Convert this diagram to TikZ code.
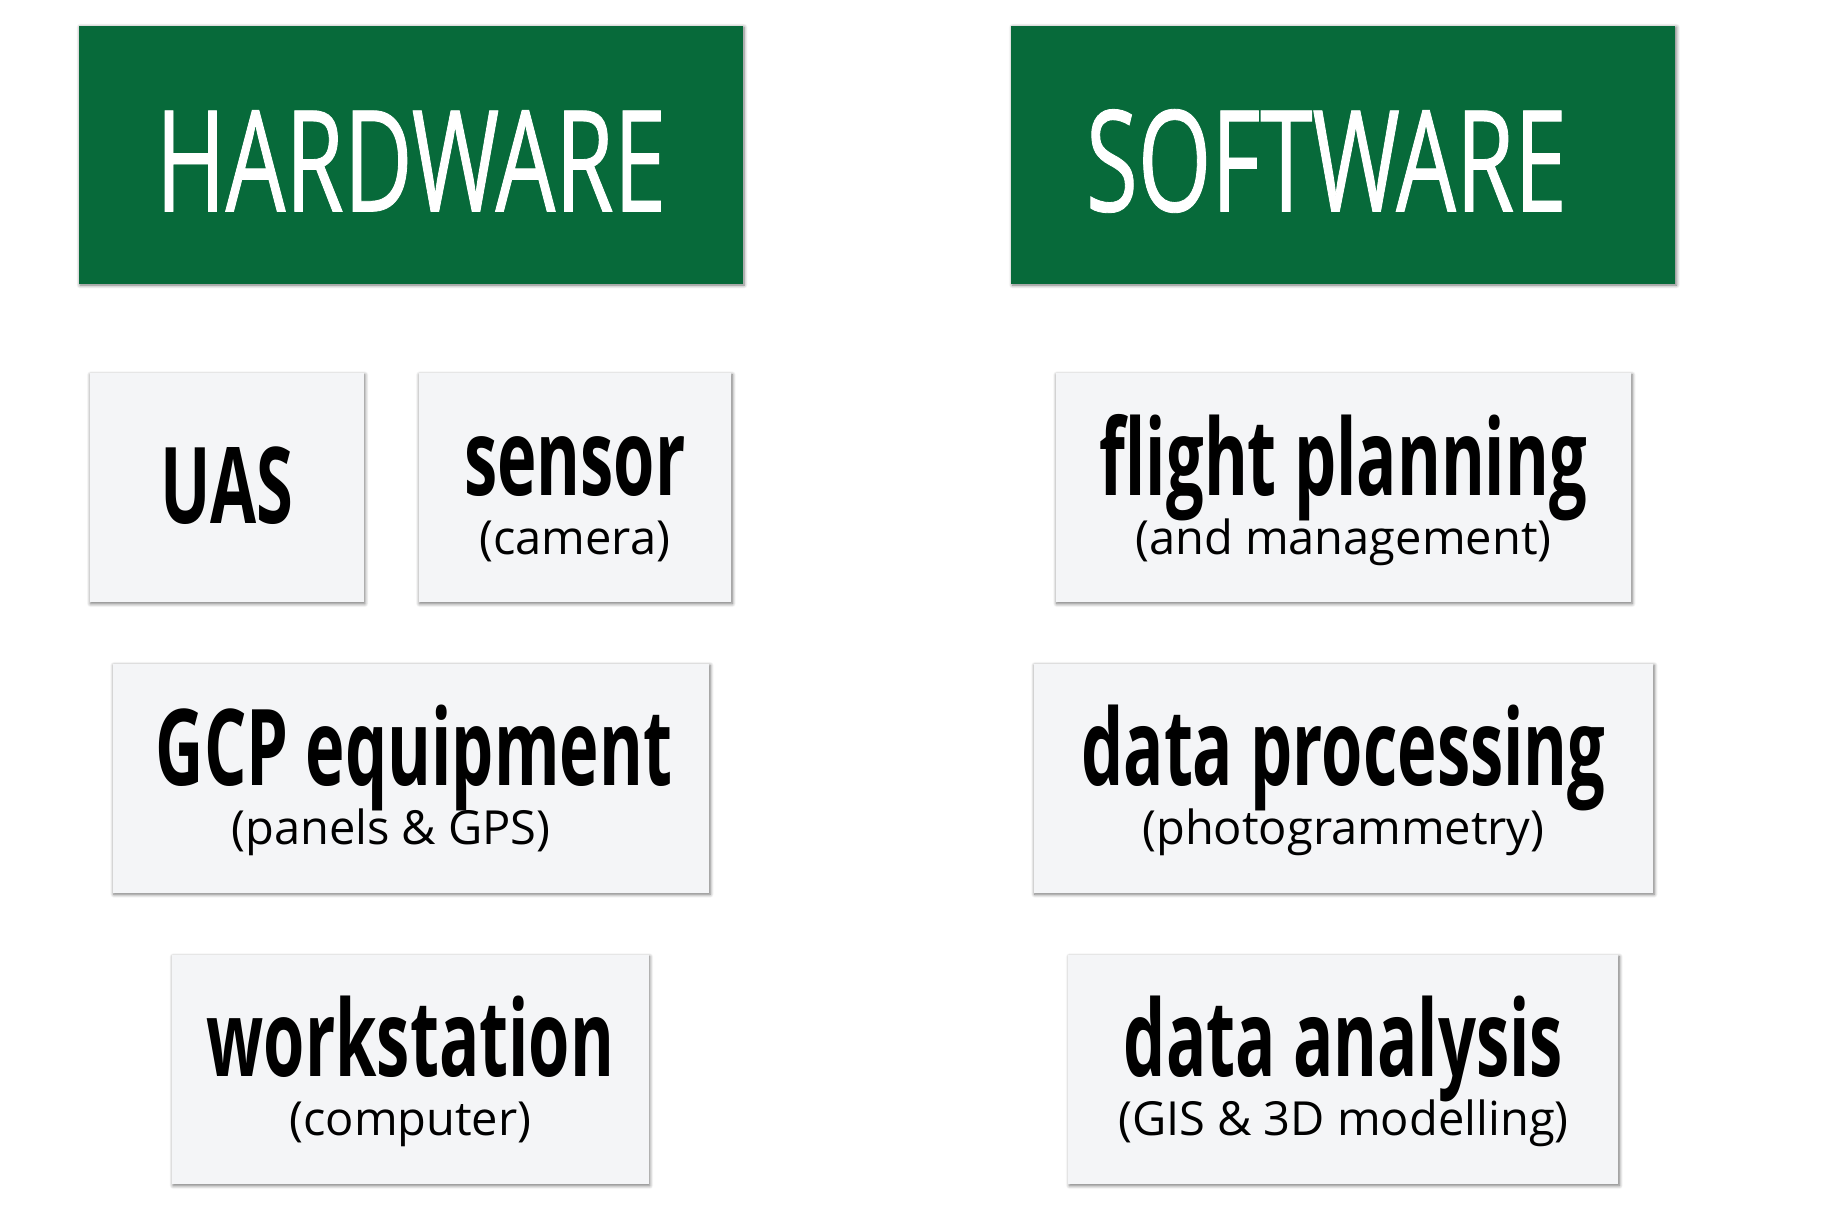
\documentclass[tikz,border=0pt]{standalone}
\usepackage{fontspec}
\usetikzlibrary{calc,shadows.blur}
\newfontfamily\headfont[FakeStretch=0.67,FakeBold=0.6]{Open Sans}
\newfontfamily\boxfont[FakeStretch=0.63]{Open Sans}
\newfontfamily\subfont{Open Sans}
\definecolor{headgreen}{HTML}{076A3A}
\definecolor{boxgray}{HTML}{F4F5F7}
\begin{document}
\begin{tikzpicture}[x=1pt,y=-1pt,
  softshadow/.style={blur shadow={shadow blur steps=6, shadow xshift=1pt,
      shadow yshift=-1.5pt, shadow blur radius=3.5pt, shadow opacity=55}},
  header/.style={rectangle, fill=headgreen, inner sep=0pt, softshadow},
  headtext/.style={anchor=base, inner sep=0pt, text=white,
      font={\headfont\fontsize{141}{150}\selectfont}},
  itembox/.style={rectangle, fill=boxgray, inner sep=0pt, softshadow},
  maintext/.style={anchor=base, inner sep=0pt, text=black,
      font={\boxfont\bfseries\fontsize{106}{110}\selectfont}},
  subtext/.style={anchor=base, inner sep=0pt, text=black,
      font={\subfont\fontsize{47}{50}\selectfont}}
]
\useasboundingbox (0,0) rectangle (1823,1228);

% column headers
\node[header, minimum width=664, minimum height=258] (hw) at (411,154.6) {};
\node[header, minimum width=664, minimum height=258] (sw) at (1343.4,154.6) {};
\node[headtext] (hw-t) at ($(hw.north)+(0,186)$) {HARDWARE};
\node[headtext] (sw-t) at ($(sw.north)+(-17,186)$) {SOFTWARE};

% hardware items
\node[itembox, minimum width=274.4, minimum height=229] (uas) at (226.7,487.7) {};
\node[itembox, minimum width=312.8, minimum height=229] (sensor) at (574.9,487.7) {};
\node[itembox, minimum width=596.4, minimum height=229] (gcp) at (411,778.3) {};
\node[itembox, minimum width=476.6, minimum height=229] (ws) at (410.4,1069.6) {};

% software items
\node[itembox, minimum width=575.5, minimum height=229] (fp) at (1343.4,487.7) {};
\node[itembox, minimum width=619.6, minimum height=229] (dp) at (1343.4,778.3) {};
\node[itembox, minimum width=549.9, minimum height=229] (da) at (1343.4,1069.6) {};

% item labels
\node[maintext] (uas-t) at ($(uas.north)+(0,150)$) {UAS};
\node[maintext] (sensor-t) at ($(sensor.north)+(0,122)$) {sensor};
\node[subtext] (sensor-s) at ($(sensor.north)+(0,181)$) {(camera)};
\node[maintext] (gcp-t) at ($(gcp.north)+(3,122)$) {GCP equipment};
\node[subtext] (gcp-s) at ($(gcp.north)+(-20,181)$) {(panels \& GPS)};
\node[maintext] (ws-t) at ($(ws.north)+(0,122)$) {workstation};
\node[subtext] (ws-s) at ($(ws.north)+(0,181)$) {(computer)};

\node[maintext] (fp-t) at ($(fp.north)+(0,122)$) {flight planning};
\node[subtext] (fp-s) at ($(fp.north)+(0,181)$) {(and management)};
\node[maintext] (dp-t) at ($(dp.north)+(0,122)$) {data processing};
\node[subtext] (dp-s) at ($(dp.north)+(0,181)$) {(photogrammetry)};
\node[maintext] (da-t) at ($(da.north)+(0,122)$) {data analysis};
\node[subtext] (da-s) at ($(da.north)+(0,181)$) {(GIS \& 3D modelling)};
\end{tikzpicture}
\end{document}
